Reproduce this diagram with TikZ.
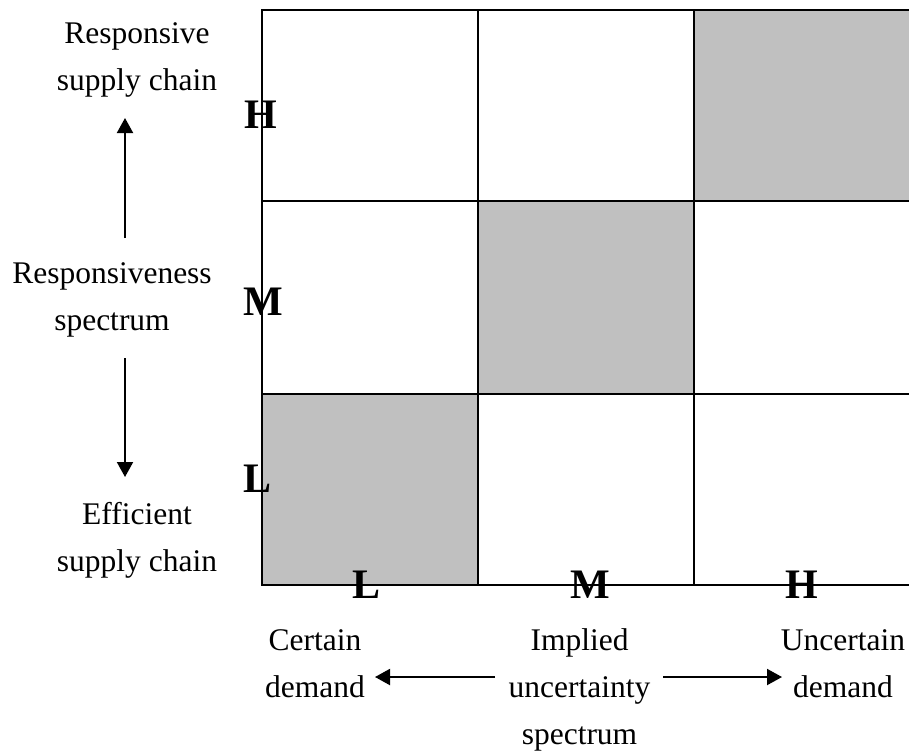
\documentclass[tikz,border=0pt]{standalone}
\usepackage{fontspec}
\setmainfont{Liberation Serif}
\usetikzlibrary{arrows.meta}
\definecolor{cellgray}{HTML}{C0C0C0}
\begin{document}
\begin{tikzpicture}[x=1pt,y=-1pt,
  gridline/.style={line width=2pt},
  shaded/.style={fill=cellgray},
  lbl/.style={font=\fontsize{31.5}{47}\selectfont, align=center, inner sep=0pt, anchor=base},
  level/.style={font=\fontsize{42}{42}\selectfont\bfseries, inner sep=0pt, anchor=base},
  spectrumarrow/.style={line width=2pt, -{Triangle[width=16pt,length=15pt]}}]
\useasboundingbox (0,0) rectangle (909,753);

% shaded diagonal cells
\fill[shaded] (694,10) rectangle (912,201);
\fill[shaded] (478,201) rectangle (694,394);
\fill[shaded] (262,394) rectangle (478,585);

% level letters on the two axes
\node[level] (rowH) at (261,128) {H};
\node[level] (rowM) at (263.5,315) {M};
\node[level] (rowL) at (257.5,492) {L};
\node[level] (colL) at (366.5,598) {L};
\node[level] (colM) at (590,598) {M};
\node[level] (colH) at (802,598) {H};

% grid
\draw[gridline] (262,10) rectangle (912,585);
\draw[gridline] (478,10) -- (478,585) (694,10) -- (694,585)
                (262,201) -- (912,201) (262,394) -- (912,394);

% vertical axis texts (anchored at the baseline of the last line)
\node[lbl] (resp) at (137,90) {Responsive\\supply chain};
\node[lbl] (rspec) at (112,330) {Responsiveness\\spectrum};
\node[lbl] (eff) at (137,571) {Efficient\\supply chain};

% horizontal axis texts
\node[lbl] (cert) at (315,697) {Certain\\demand};
\node[lbl] (impl) at (579.5,744) {Implied\\uncertainty\\spectrum};
\node[lbl] (unc) at (843,697) {Uncertain\\demand};

% arrow end points
\coordinate (upS) at (125,238);
\coordinate (upE) at (125,118);
\coordinate (dnS) at (125,358);
\coordinate (dnE) at (125,477);
\coordinate (lfS) at (495,677);
\coordinate (lfE) at (375,677);
\coordinate (rtS) at (663,677);
\coordinate (rtE) at (782,677);

\draw[spectrumarrow] (upS) -- (upE);
\draw[spectrumarrow] (dnS) -- (dnE);
\draw[spectrumarrow] (lfS) -- (lfE);
\draw[spectrumarrow] (rtS) -- (rtE);
\end{tikzpicture}
\end{document}
